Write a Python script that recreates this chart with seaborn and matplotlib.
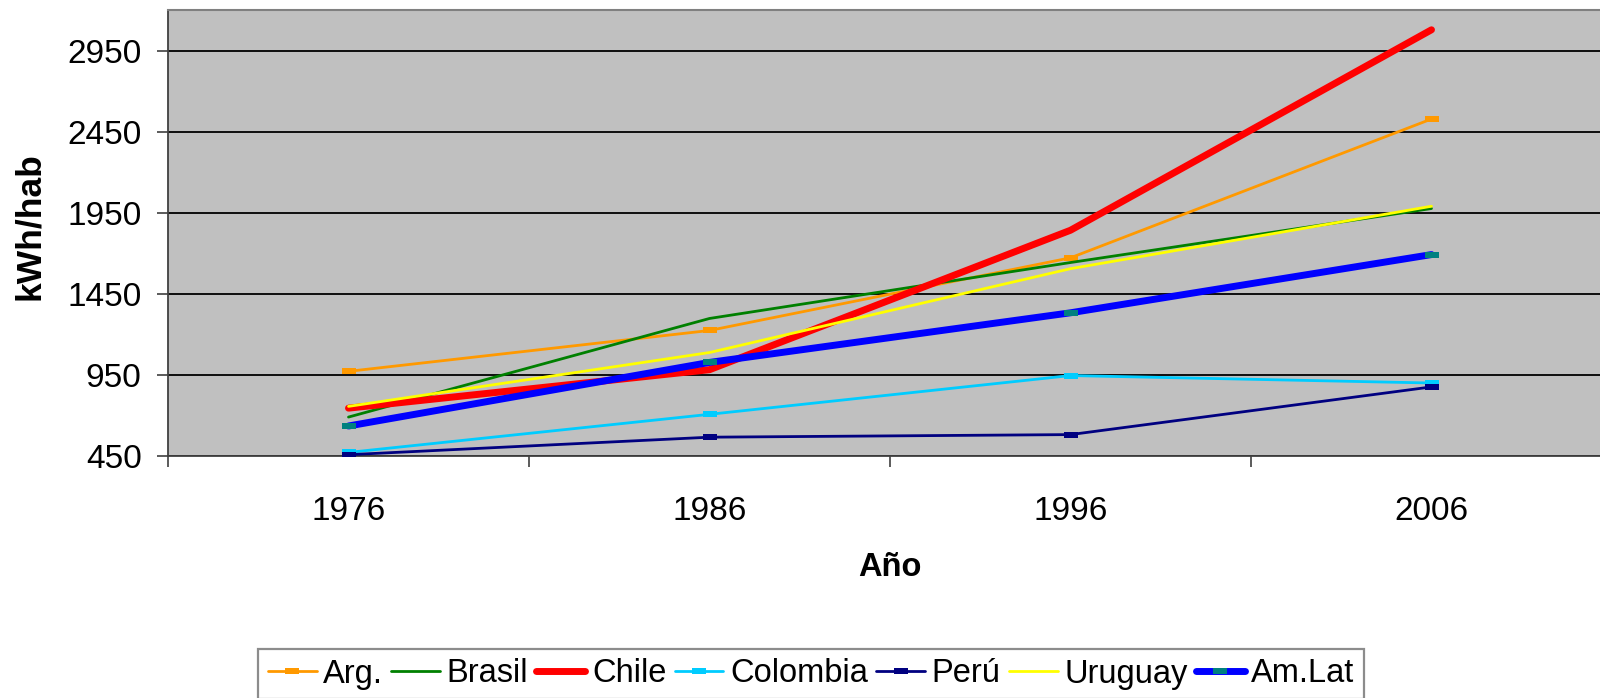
import matplotlib
matplotlib.use("Agg")
import matplotlib.pyplot as plt
import seaborn as sns
import numpy as np
import pandas as pd

# Consumo eléctrico per cápita (kWh/hab)
years = ["1976", "1986", "1996", "2006"]
arg = [972, 1224, 1672, 2528]
brasil = [690, 1298, 1643, 1976]
chile = [745, 982, 1842, 3078]
colombia = [472, 707, 946, 900]
peru = [458, 566, 582, 876]
uruguay = [756, 1088, 1605, 1990]
amlat = [635, 1027, 1333, 1692]

y_ticks = [450, 950, 1450, 1950, 2450, 2950]

series = [
    ("Arg.", arg, "#FF9900", 2.0, "#FF9900"),
    ("Brasil", brasil, "#008000", 2.0, None),
    ("Chile", chile, "#FF0000", 5.0, None),
    ("Colombia", colombia, "#00CCFF", 2.0, "#00CCFF"),
    ("Perú", peru, "#000080", 2.0, "#000080"),
    ("Uruguay", uruguay, "#FFFF00", 2.0, None),
    ("Am.Lat", amlat, "#0000FF", 5.0, "#008080"),
]

sns.set_theme(style="white")
plt.rcParams["font.family"] = ["Liberation Sans", "DejaVu Sans"]
plt.rcParams["text.color"] = "black"

fig = plt.figure(figsize=(16, 6.98), dpi=100)
ax = fig.add_axes([168 / 1600, 1 - 456 / 698, (1612 - 168) / 1600, (456 - 10) / 698])
ax.set_facecolor("#C0C0C0")

rect_marker = [(-1.3, -0.5), (1.3, -0.5), (1.3, 0.5), (-1.3, 0.5), (-1.3, -0.5)]

for name, vals, color, lw, mcolor in series:
    df = pd.DataFrame({"Año": years, "kWh/hab": vals})
    kw = {}
    if mcolor is not None:
        kw = dict(marker=rect_marker, markersize=9.5, markerfacecolor=mcolor,
                  markeredgecolor=mcolor, markeredgewidth=0)
    sns.lineplot(data=df, x="Año", y="kWh/hab", color=color, linewidth=lw,
                 label=name, ax=ax, solid_capstyle="round",
                 solid_joinstyle="round", zorder=3, **kw)

ax.set_xlim(-0.5, 3.5)
ax.set_ylim(450, 3200)
ax.set_yticks(y_ticks)
ax.set_yticklabels([str(t) for t in y_ticks], fontsize=24)
ax.set_xticks(range(len(years)))
ax.set_xticklabels(years, fontsize=24)
ax.set_xticks(np.arange(-0.5, 4.0, 1.0), minor=True)

ax.grid(axis="y", color="black", linewidth=1.3, zorder=1)
ax.set_axisbelow(True)

ax.tick_params(axis="y", which="major", length=8, width=1.2, color="#404040",
               pad=11, left=True, labelcolor="black")
ax.tick_params(axis="x", which="major", length=0, pad=29, labelcolor="black")
ax.tick_params(axis="x", which="minor", length=8, width=1.2, color="#404040",
               bottom=True)

for side in ["top", "right"]:
    ax.spines[side].set_color("#808080")
    ax.spines[side].set_linewidth(1.5)
ax.spines["left"].set_color("#404040")
ax.spines["left"].set_linewidth(1.3)
ax.spines["bottom"].set_color("#404040")
ax.spines["bottom"].set_linewidth(1.3)

ax.set_xlabel("")
ax.set_ylabel("")
fig.text(30 / 1600, 1 - 226 / 698, "kWh/hab", rotation=90, fontsize=25.5,
         fontweight="bold", ha="center", va="center", color="black")
fig.text(890 / 1600, 1 - 567 / 698, "Año", fontsize=23.5, fontweight="bold",
         ha="center", va="center", color="black")

handles, labels = ax.get_legend_handles_labels()
if ax.legend_:
    ax.legend_.remove()
leg = fig.legend(handles, labels, ncol=7, loc="center",
                 bbox_to_anchor=(811 / 1600, 1 - 674 / 698), fontsize=23.5,
                 frameon=True, fancybox=False, edgecolor="#707070",
                 handlelength=1.5, handletextpad=0.2, columnspacing=0.25,
                 borderpad=0.3, borderaxespad=0, labelcolor="black")
leg.get_frame().set_linewidth(1.6)

fig.savefig("out.png", dpi=100)
